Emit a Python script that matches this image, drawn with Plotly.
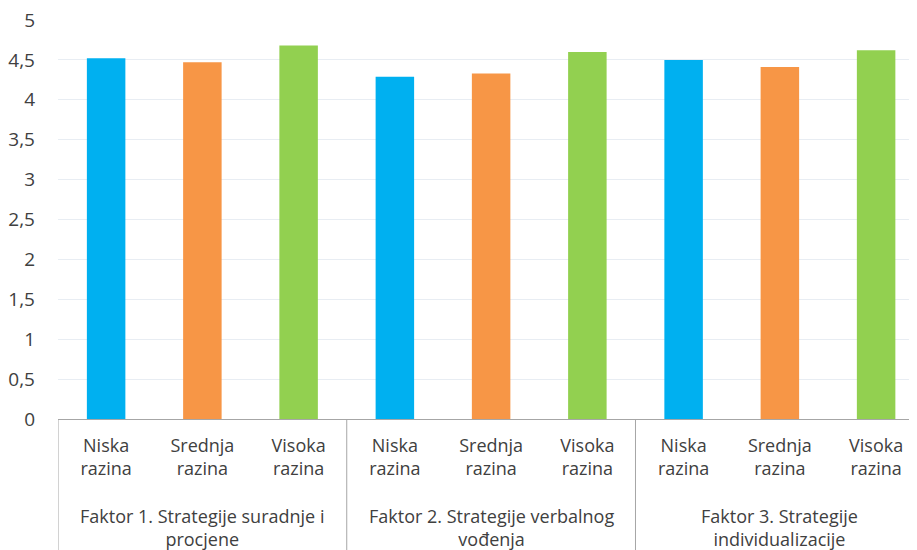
import plotly.graph_objects as go

# Data
faktori = [
    "Faktor 1. Strategije suradnje i<br>procjene",
    "Faktor 2. Strategije verbalnog<br>vođenja",
    "Faktor 3. Strategije<br>individualizacije",
]
razine = ["Niska<br>razina", "Srednja<br>razina", "Visoka<br>razina"]
vrijednosti = [
    [4.52, 4.47, 4.68],
    [4.29, 4.33, 4.60],
    [4.50, 4.41, 4.62],
]
boje = ["#00B0F0", "#F79646", "#92D050"]

font_family = "Open Sans"
text_color = "#404040"
line_color = "#A6A6A6"

# one slot per bar, groups of three
x_pos = []
y_vals = []
bar_colors = []
tick_text = []
for i, f in enumerate(faktori):
    for j, r in enumerate(razine):
        x_pos.append(i * len(razine) + j)
        y_vals.append(vrijednosti[i][j])
        bar_colors.append(boje[j])
        tick_text.append(r)

fig = go.Figure(go.Bar(
    x=x_pos,
    y=y_vals,
    width=0.4,
    marker=dict(color=bar_colors, line=dict(width=0)),
))

# group labels and divider lines under the axis
for i, f in enumerate(faktori):
    fig.add_annotation(
        x=i * len(razine) + (len(razine) - 1) / 2, xref="x",
        y=-0.272, yref="paper",
        text=f, showarrow=False,
        yanchor="middle",
        font=dict(family=font_family, size=18, color=text_color),
    )
for k in range(len(faktori) + 1):
    fig.add_shape(
        type="line", xref="x", yref="paper",
        x0=k * len(razine) - 0.5, x1=k * len(razine) - 0.5,
        y0=0, y1=-0.36,
        line=dict(color=line_color, width=1),
    )

fig.update_layout(
    width=917,
    height=550,
    margin=dict(l=50, r=0, t=12, b=139),
    paper_bgcolor="white",
    plot_bgcolor="white",
    separators=", ",
    showlegend=False,
    font=dict(family=font_family, size=18, color=text_color),
)
fig.update_xaxes(
    range=[-0.5, 8.508],
    tickvals=x_pos,
    ticktext=tick_text,
    ticks="",
    showgrid=False,
    zeroline=False,
    showline=True,
    linecolor=line_color,
    linewidth=1,
    ticklabelstandoff=10,
    automargin=False,
    tickfont=dict(family=font_family, size=18, color=text_color),
)
fig.update_yaxes(
    range=[0, 5],
    dtick=0.5,
    showgrid=True,
    gridcolor="#E8EDF3",
    gridwidth=1,
    zeroline=False,
    showline=False,
    ticks="",
    ticklabelstandoff=22,
    ticklabeloverflow="allow",
    automargin=False,
    tickfont=dict(family=font_family, size=19, color=text_color),
)

fig.write_html("out.html")
